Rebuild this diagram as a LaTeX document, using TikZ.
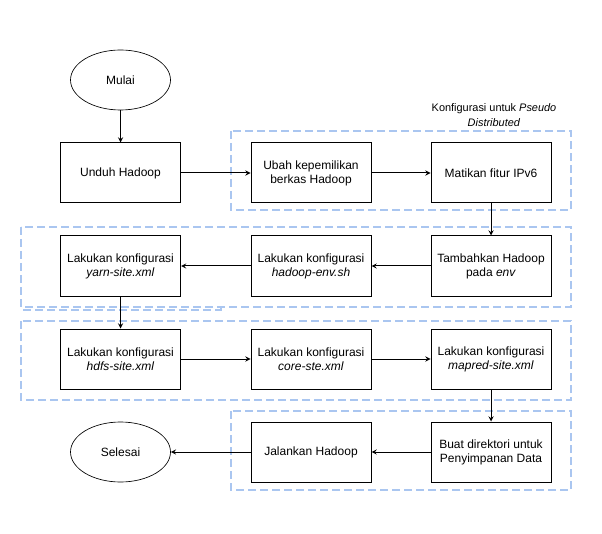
\documentclass[tikz,border=0pt]{standalone}
\usepackage{fontspec}
\setmainfont{Liberation Sans}
\usepackage{tikz}
\usetikzlibrary{shapes.geometric, arrows}
\definecolor{grupbiru}{RGB}{170,198,240}

\begin{document}
\begin{tikzpicture}[x=0.75pt,y=-0.75pt,
		langkah/.style={draw, rectangle, line width=0.75pt, minimum width=90pt, minimum height=45pt, align=center, inner sep=0pt, font=\fontsize{9pt}{10.5pt}\selectfont},
		terminal/.style={draw, ellipse, line width=0.5pt, minimum width=75pt, minimum height=45pt, inner sep=0pt, font=\fontsize{9pt}{10.5pt}\selectfont},
		grup/.style={draw=grupbiru, dash pattern=on 6pt off 3pt, line width=0.78pt},
		panah/.style={-stealth, line width=0.75pt}]
		\useasboundingbox (0,0) rectangle (602,534);
		% kelompok konfigurasi
		\draw[grup] (231,131) rectangle (571,210);
		\draw[grup] (21,227) rectangle (571,307);
		\draw[grup] (23,310) -- (221,310) -- (221,306);
		\draw[grup] (21,321) rectangle (571,400);
		\draw[grup] (231,411) rectangle (571,490);
		\node[align=center, font=\fontsize{8.2pt}{11pt}\selectfont] (judul) at (494,115) {Konfigurasi untuk \textit{Pseudo}\\\textit{Distributed}};
		% langkah
		\node[terminal] (mulai) at (120.5,80) {Mulai};
		\node[langkah] (unduh) at (120.5,173) {Unduh Hadoop};
		\node[langkah] (ubah) at (311,173) {Ubah kepemilikan\\berkas Hadoop};
		\node[langkah] (matikan) at (491,173) {Matikan fitur IPv6};
		\node[langkah] (tambah) at (491,266) {Tambahkan Hadoop\\pada \textit{env}};
		\node[langkah] (hadoopenv) at (311,266) {Lakukan konfigurasi\\\textit{hadoop-env.sh}};
		\node[langkah] (yarn) at (120.5,266) {Lakukan konfigurasi\\\textit{yarn-site.xml}};
		\node[langkah] (hdfs) at (120.5,359) {Lakukan konfigurasi\\\textit{hdfs-site.xml}};
		\node[langkah] (core) at (311,359) {Lakukan konfigurasi\\\textit{core-ste.xml}};
		\node[langkah] (mapred) at (491,359) {Lakukan konfigurasi\\\textit{mapred-site.xml}};
		\node[langkah] (buatdir) at (491,452) {Buat direktori untuk\\Penyimpanan Data};
		\node[langkah] (jalankan) at (311,452) {Jalankan Hadoop};
		\node[terminal] (selesai) at (120.5,452) {Selesai};
		% alur
		\draw[panah] (mulai) -- (unduh);
		\draw[panah] (unduh) -- (ubah);
		\draw[panah] (ubah) -- (matikan);
		\draw[panah] (matikan) -- (tambah);
		\draw[panah] (tambah) -- (hadoopenv);
		\draw[panah] (hadoopenv) -- (yarn);
		\draw[panah] (yarn) -- (hdfs);
		\draw[panah] (hdfs) -- (core);
		\draw[panah] (core) -- (mapred);
		\draw[panah] (mapred) -- (buatdir);
		\draw[panah] (buatdir) -- (jalankan);
		\draw[panah] (jalankan) -- (selesai);
	\end{tikzpicture}
\end{document}
